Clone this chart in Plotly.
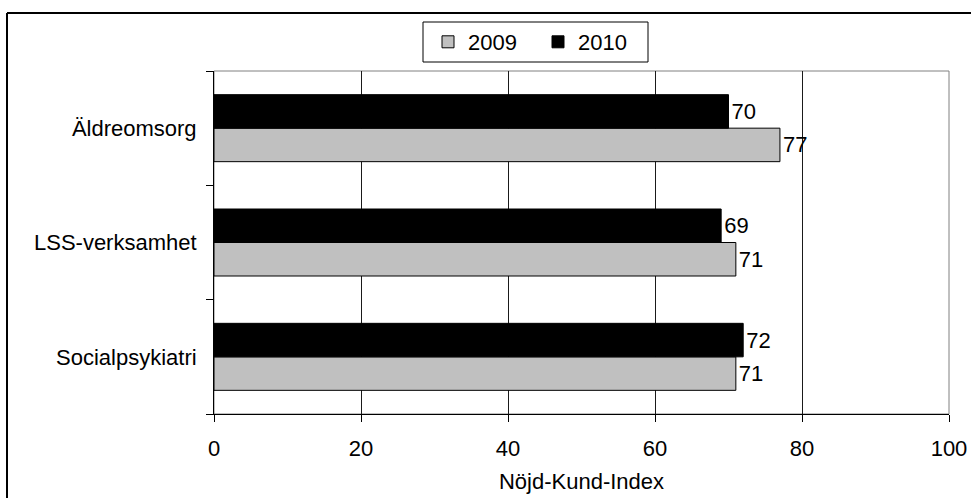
import plotly.graph_objects as go

categories = ["Äldreomsorg", "LSS-verksamhet", "Socialpsykiatri"]
values_2009 = [77, 71, 71]
values_2010 = [70, 69, 72]
x_ticks = [0, 20, 40, 60, 80, 100]
series_names = ["2009", "2010"]

FONT = "Liberation Sans, Arial, sans-serif"
W, H = 971, 498
L, R, T, B = 214, 22, 71, 84
pw, ph = W - L - R, H - T - B


def px_x(p):
    return (p - L) / pw


def px_y(p):
    return (H - B - p) / ph


fig = go.Figure()
fig.add_bar(
    name=series_names[0], y=categories, x=values_2009, orientation="h",
    marker=dict(color="#C0C0C0", line=dict(color="#000000", width=1)),
    text=values_2009, textposition="outside",
    textfont=dict(size=22, color="black", family=FONT), cliponaxis=False,
)
fig.add_bar(
    name=series_names[1], y=categories, x=values_2010, orientation="h",
    marker=dict(color="#000000", line=dict(color="#000000", width=1)),
    text=values_2010, textposition="outside",
    textfont=dict(size=22, color="black", family=FONT), cliponaxis=False,
)

fig.update_layout(
    width=W, height=H, autosize=False,
    margin=dict(l=L, r=R, t=T, b=B, pad=0, autoexpand=False),
    paper_bgcolor="white", plot_bgcolor="white",
    barmode="group", bargap=0.414, bargroupgap=0,
    font=dict(family=FONT, size=22, color="black"),
    showlegend=True,
    legend=dict(
        orientation="h", x=px_x(428), xanchor="left",
        y=px_y(42), yanchor="middle",
        borderwidth=0, bgcolor="rgba(0,0,0,0)",
        entrywidth=65, entrywidthmode="pixels",
        font=dict(size=22, family=FONT, color="black"),
    ),
    xaxis=dict(
        range=[0, 100], tickvals=x_ticks, ticktext=[str(v) for v in x_ticks],
        showgrid=True, gridcolor="#1a1a1a", gridwidth=1,
        showline=True, linecolor="black", linewidth=1,
        ticks="outside", ticklen=7, tickcolor="black",
        zeroline=False, ticklabelstandoff=8, automargin=False,
        title=dict(text="Nöjd-Kund-Index", standoff=13,
                   font=dict(size=22, family=FONT, color="black")),
    ),
    yaxis=dict(
        categoryorder="array", categoryarray=categories[::-1],
        showgrid=False, showline=True, linecolor="black", linewidth=1,
        ticks="outside", tickson="boundaries", ticklen=7, tickcolor="black",
        ticklabelstandoff=12, zeroline=False, automargin=False,
    ),
    shapes=[
        dict(type="rect", xref="paper", yref="paper", x0=0, x1=1, y0=0, y1=1,
             line=dict(color="#808080", width=1), layer="below"),
        dict(type="rect", xref="paper", yref="paper",
             x0=px_x(423), x1=px_x(648), y0=px_y(62), y1=px_y(22),
             line=dict(color="black", width=1), fillcolor="white", layer="above"),
        dict(type="line", xref="paper", yref="paper",
             x0=px_x(7), x1=px_x(975), y0=px_y(13), y1=px_y(13),
             line=dict(color="black", width=2)),
        dict(type="line", xref="paper", yref="paper",
             x0=px_x(7), x1=px_x(7), y0=px_y(13), y1=px_y(502),
             line=dict(color="black", width=2)),
    ],
)

fig.write_html(
    "out.html",
    config={"displayModeBar": False},
    post_script="document.body.style.margin='0';document.body.style.padding='0';",
)
